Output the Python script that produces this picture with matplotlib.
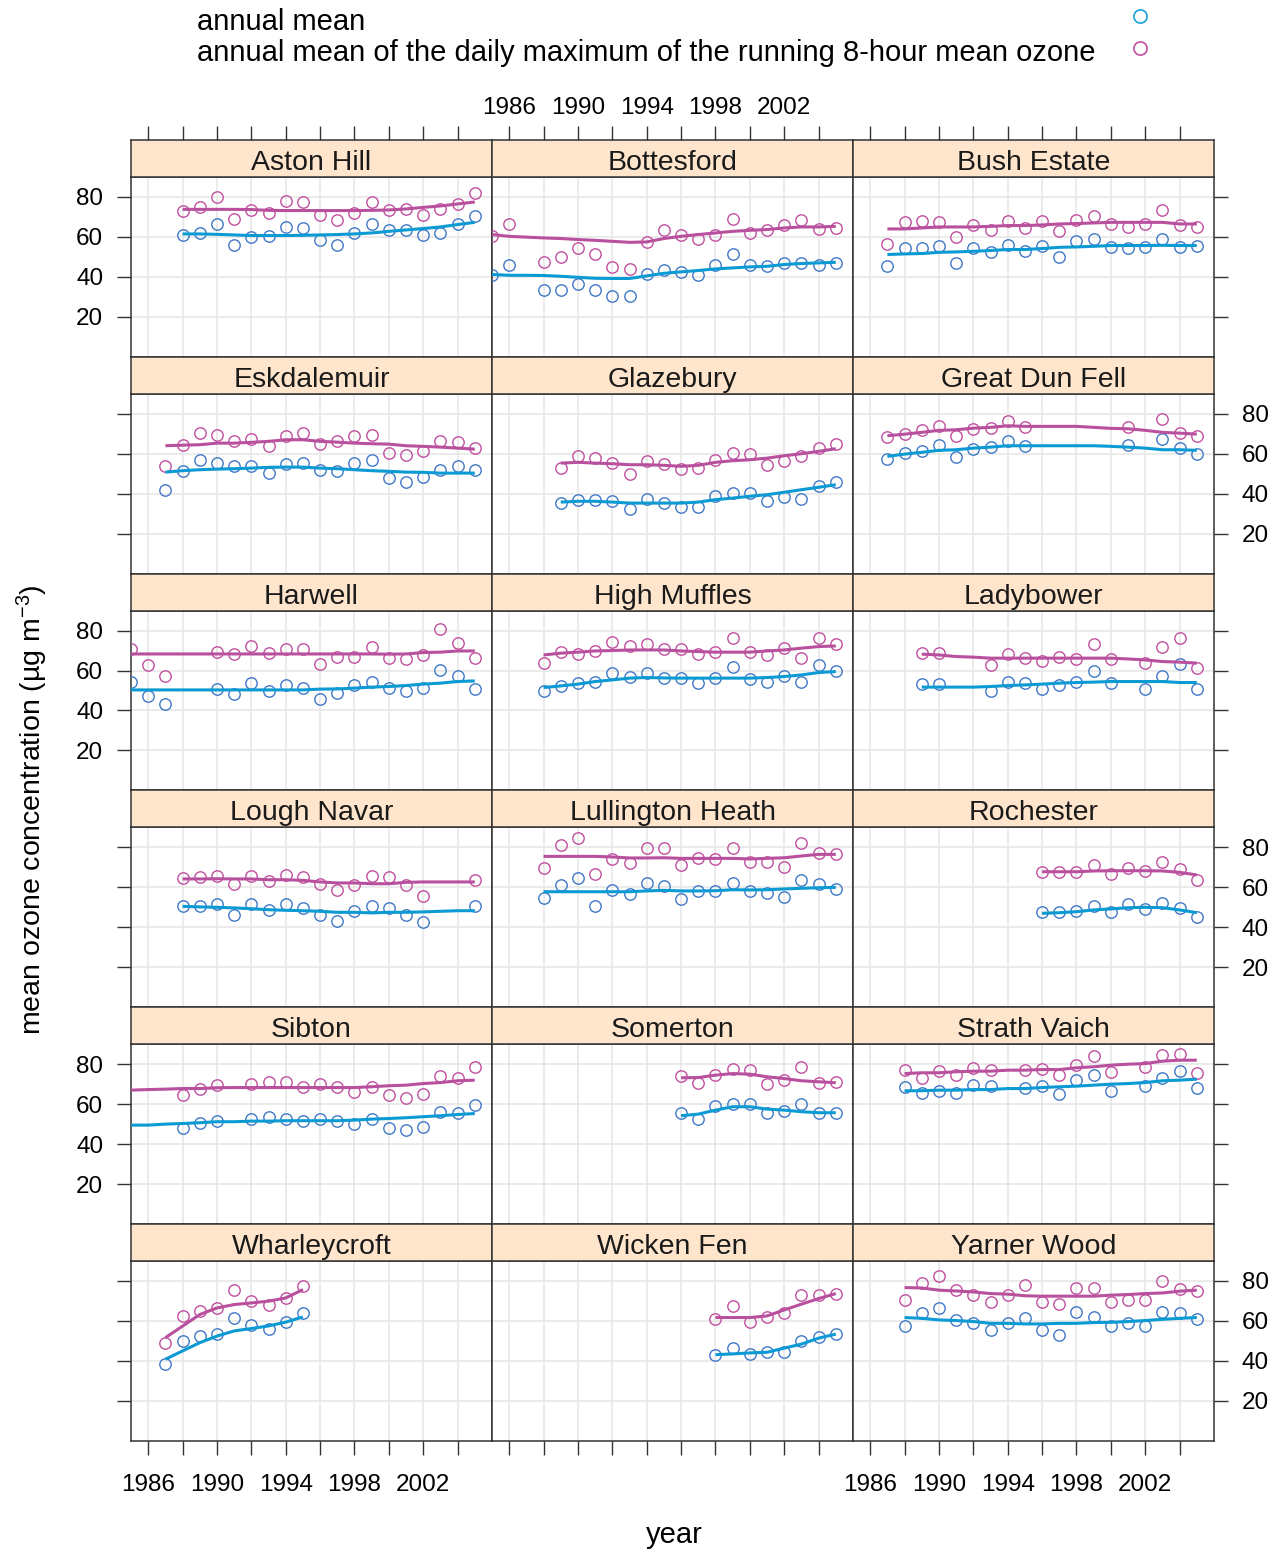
import matplotlib
matplotlib.use("Agg")
import matplotlib.pyplot as plt
from matplotlib.lines import Line2D

plt.rcParams['font.family'] = ['Liberation Sans', 'DejaVu Sans']
plt.rcParams['mathtext.fontset'] = 'custom'
plt.rcParams['mathtext.rm'] = 'Liberation Sans'
plt.rcParams['mathtext.it'] = 'Liberation Sans:italic'

# ---------------- data ----------------
aston_years = list(range(1988, 2006))
aston_max8 = [72.8, 74.8, 80.2, 69.0, 73.5, 72.0, 78.0, 77.3, 70.8, 68.3, 72.0, 77.3, 73.5, 74.2, 71.0, 74.2, 76.5, 81.8]
aston_mean = [61.2, 62.0, 66.3, 56.0, 60.2, 60.3, 65.0, 64.3, 58.3, 56.0, 61.8, 66.5, 63.7, 63.3, 61.2, 61.8, 66.7, 70.5]
aston_fit_years = list(range(1988, 2006))
aston_fit_max8 = [73.8, 73.8, 73.8, 73.8, 73.7, 73.3, 73.2, 73.2, 73.2, 73.2, 73.2, 73.3, 73.5, 74.0, 74.8, 75.5, 76.5, 77.5]
aston_fit_mean = [61.5, 61.5, 61.3, 61.0, 60.7, 60.7, 60.7, 60.8, 61.0, 61.2, 61.5, 62.0, 62.8, 63.5, 64.2, 65.0, 66.2, 67.3]

bottesford_years = [1985, 1986] + list(range(1988, 2006))
bottesford_max8 = [60.3, 66.7, 47.5, 50.0, 54.5, 51.7, 44.7, 44.0, 57.5, 63.7, 60.8, 59.2, 61.2, 69.0, 62.0, 63.7, 66.0, 68.3, 64.0, 64.5]
bottesford_mean = [40.7, 46.2, 33.3, 33.3, 36.5, 33.3, 30.3, 30.3, 41.2, 43.5, 42.5, 40.7, 45.8, 51.5, 46.2, 45.3, 47.0, 47.0, 46.2, 47.0]
bottesford_fit_years = list(range(1985, 2006))
bottesford_fit_max8 = [61.2, 60.3, 59.9, 59.5, 59.2, 58.7, 58.3, 57.8, 57.3, 57.5, 59.2, 60.3, 61.2, 62.0, 62.8, 63.3, 63.7, 64.5, 65.0, 65.0, 65.3]
bottesford_fit_mean = [41.2, 40.8, 40.8, 40.7, 40.3, 39.8, 39.3, 39.2, 39.2, 40.5, 41.8, 42.5, 43.2, 44.0, 44.5, 45.0, 45.3, 46.2, 46.7, 47.0, 47.3]

bush_years = list(range(1987, 2006))
bush_max8 = [56.7, 67.5, 68.2, 67.5, 59.8, 65.8, 63.7, 68.2, 64.3, 68.2, 63.2, 68.3, 70.3, 66.5, 65.0, 66.5, 73.3, 65.8, 65.0]
bush_mean = [45.7, 54.5, 54.5, 55.3, 47.0, 54.5, 52.3, 56.2, 52.8, 55.3, 50.0, 57.8, 59.0, 55.0, 54.5, 55.0, 59.0, 55.0, 55.3]
bush_fit_years = list(range(1987, 2006))
bush_fit_max8 = [64.0, 64.0, 64.5, 65.0, 65.0, 65.0, 65.3, 65.7, 65.7, 66.0, 66.5, 66.7, 67.0, 67.3, 67.3, 67.3, 67.3, 66.5, 66.5]
bush_fit_mean = [51.2, 51.5, 51.7, 52.3, 52.5, 52.8, 53.2, 53.7, 53.7, 54.2, 54.8, 55.0, 55.3, 55.7, 55.7, 55.7, 55.8, 55.7, 55.7]

eskdalemuir_years = list(range(1987, 2006))
eskdalemuir_max8 = [54.0, 64.3, 70.3, 69.5, 66.5, 67.3, 63.7, 69.0, 70.3, 65.0, 66.5, 69.0, 69.5, 60.3, 59.2, 61.2, 66.5, 65.7, 62.8]
eskdalemuir_mean = [41.7, 51.5, 56.7, 55.3, 53.7, 53.7, 50.3, 55.0, 55.3, 52.0, 51.5, 55.3, 56.7, 47.7, 46.0, 48.3, 51.7, 53.7, 51.7]
eskdalemuir_fit_years = list(range(1987, 2006))
eskdalemuir_fit_max8 = [64.0, 64.3, 64.5, 65.3, 65.3, 65.7, 66.2, 67.0, 67.0, 66.2, 65.8, 65.3, 65.0, 64.8, 64.0, 63.7, 63.3, 62.8, 62.3]
eskdalemuir_fit_mean = [50.8, 51.5, 52.0, 52.3, 52.5, 52.8, 53.2, 53.3, 53.3, 52.8, 52.5, 52.0, 51.5, 51.2, 50.8, 50.7, 50.3, 50.3, 50.3]

glazebury_years = list(range(1989, 2006))
glazebury_max8 = [52.8, 58.7, 57.8, 55.3, 50.0, 56.2, 54.7, 52.5, 52.8, 56.7, 60.3, 60.0, 54.5, 56.2, 58.7, 62.8, 65.0]
glazebury_mean = [35.3, 37.0, 37.0, 36.2, 32.3, 37.3, 35.5, 33.3, 33.3, 38.7, 40.3, 40.3, 36.2, 38.3, 37.3, 43.7, 46.0]
glazebury_fit_years = list(range(1989, 2006))
glazebury_fit_max8 = [55.3, 55.7, 55.3, 55.0, 54.5, 54.5, 54.2, 53.7, 54.2, 55.7, 56.5, 57.0, 57.8, 59.0, 60.0, 61.2, 62.5]
glazebury_fit_mean = [35.8, 36.2, 36.2, 35.8, 35.3, 35.3, 35.3, 35.3, 35.8, 37.0, 37.8, 38.7, 39.5, 40.7, 42.0, 43.2, 44.5]

gdf_years = list(range(1987, 1996)) + [2001, 2003, 2004, 2005]
gdf_max8 = [68.3, 70.0, 71.7, 74.0, 68.7, 72.5, 72.8, 76.5, 73.3, 73.3, 77.3, 70.3, 68.7]
gdf_mean = [57.3, 60.3, 61.2, 64.5, 58.3, 62.5, 63.3, 66.2, 63.7, 64.5, 67.3, 62.8, 60.0]
gdf_fit_years = list(range(1987, 2006))
gdf_fit_max8 = [69.0, 69.8, 70.7, 71.7, 72.0, 72.8, 73.2, 74.0, 73.7, 73.7, 73.7, 73.7, 73.2, 72.7, 72.5, 71.7, 70.7, 70.3, 69.8]
gdf_fit_mean = [58.7, 59.8, 60.7, 61.7, 62.0, 62.8, 63.3, 64.0, 64.0, 64.0, 64.0, 64.0, 64.0, 63.7, 63.3, 62.8, 62.0, 62.0, 61.7]

harwell_years = [1985, 1986, 1987] + list(range(1990, 2006))
harwell_max8 = [70.7, 62.8, 57.3, 69.5, 68.2, 72.5, 68.7, 70.8, 70.8, 63.3, 67.0, 67.0, 71.7, 66.2, 65.7, 67.8, 80.7, 74.0, 66.2]
harwell_mean = [54.5, 47.5, 43.2, 50.7, 48.3, 53.7, 49.8, 52.8, 51.5, 45.8, 48.7, 52.8, 54.5, 51.5, 49.8, 51.5, 60.3, 57.5, 50.7]
harwell_fit_years = list(range(1985, 2006))
harwell_fit_max8 = [68.3, 68.3, 68.3, 68.3, 68.3, 68.3, 68.3, 68.3, 68.3, 68.3, 68.3, 68.3, 68.3, 68.3, 68.3, 68.2, 68.3, 69.0, 69.2, 69.8, 69.8]
harwell_fit_mean = [50.3, 50.3, 50.3, 50.3, 50.3, 50.3, 50.3, 50.3, 50.3, 50.3, 50.3, 50.7, 50.8, 51.2, 51.7, 52.0, 52.5, 53.2, 53.7, 54.5, 54.8]

muffles_years = list(range(1988, 2006))
muffles_max8 = [63.7, 69.2, 68.2, 70.0, 74.5, 72.5, 73.2, 70.8, 70.8, 68.2, 69.5, 76.2, 69.2, 67.8, 71.2, 66.2, 76.2, 73.3]
muffles_mean = [49.8, 52.5, 53.7, 54.5, 59.0, 57.0, 59.0, 56.5, 56.5, 53.7, 56.5, 61.7, 55.7, 54.2, 57.3, 54.5, 62.8, 60.0]
muffles_fit_years = list(range(1988, 2006))
muffles_fit_max8 = [67.8, 68.7, 69.2, 69.8, 70.0, 70.3, 70.3, 70.3, 69.8, 69.5, 69.2, 69.2, 69.2, 69.8, 70.3, 71.2, 72.0, 72.3]
muffles_fit_mean = [51.5, 52.3, 53.2, 54.5, 55.3, 56.2, 56.5, 56.3, 56.2, 56.2, 56.2, 56.2, 56.2, 56.5, 57.0, 57.8, 59.0, 59.5]

ladybower_years = [1989, 1990] + list(range(1993, 2001)) + list(range(2002, 2006))
ladybower_max8 = [68.7, 68.7, 62.8, 68.2, 66.2, 65.0, 67.0, 65.7, 73.2, 65.7, 63.7, 72.0, 76.2, 61.2]
ladybower_mean = [53.2, 53.2, 50.0, 54.5, 53.7, 50.7, 52.8, 54.5, 59.8, 53.7, 50.7, 57.5, 63.3, 50.7]
ladybower_fit_years = list(range(1989, 2006))
ladybower_fit_max8 = [68.2, 67.8, 67.0, 66.7, 66.2, 66.2, 66.2, 66.2, 66.2, 66.2, 66.2, 66.2, 65.8, 65.3, 64.5, 64.2, 63.7]
ladybower_fit_mean = [51.7, 51.7, 51.7, 51.7, 52.0, 52.5, 52.8, 53.2, 53.7, 54.0, 54.2, 54.5, 54.5, 54.5, 54.5, 54.0, 54.0]

navar_years = list(range(1988, 2003)) + [2005]
navar_max8 = [64.7, 65.2, 65.8, 61.7, 65.8, 63.0, 66.0, 65.2, 61.7, 58.5, 61.3, 65.8, 65.2, 61.3, 55.5, 63.8]
navar_mean = [50.8, 50.8, 51.7, 46.3, 51.7, 48.5, 51.7, 49.7, 46.0, 43.3, 48.0, 50.8, 49.7, 46.3, 42.5, 50.8]
navar_fit_years = list(range(1988, 2006))
navar_fit_max8 = [64.2, 64.2, 64.3, 64.2, 64.2, 63.8, 63.8, 63.5, 62.7, 62.2, 62.2, 61.8, 61.8, 62.5, 62.7, 62.7, 62.7, 62.7]
navar_fit_mean = [50.5, 50.2, 50.0, 49.7, 49.3, 48.8, 48.5, 48.3, 48.0, 47.5, 47.5, 47.2, 47.5, 47.5, 47.7, 48.0, 48.3, 48.3]

lullington_years = list(range(1988, 2006))
lullington_max8 = [69.7, 81.0, 84.7, 66.7, 74.2, 72.2, 79.7, 79.5, 71.2, 74.8, 74.2, 79.5, 72.8, 72.8, 70.3, 82.0, 77.3, 76.7]
lullington_mean = [54.7, 61.3, 64.7, 50.8, 58.5, 56.8, 62.2, 60.8, 54.0, 58.3, 58.3, 62.0, 58.3, 57.3, 55.3, 63.7, 61.5, 59.0]
lullington_fit_years = list(range(1988, 2006))
lullington_fit_max8 = [75.5, 75.5, 75.5, 75.5, 75.2, 74.7, 74.7, 74.8, 74.5, 74.5, 74.5, 74.5, 74.2, 74.5, 74.8, 75.7, 76.5, 76.5]
lullington_fit_mean = [57.8, 57.8, 57.8, 57.8, 57.8, 57.8, 58.2, 58.5, 58.2, 58.2, 58.3, 58.8, 58.7, 58.8, 59.2, 59.5, 59.8, 60.0]

rochester_years = list(range(1996, 2006))
rochester_max8 = [67.5, 67.8, 67.5, 71.2, 66.7, 69.5, 68.2, 72.8, 69.2, 63.7]
rochester_mean = [47.5, 47.5, 48.3, 50.7, 47.8, 51.7, 49.2, 52.3, 49.5, 45.3]
rochester_fit_years = list(range(1996, 2006))
rochester_fit_max8 = [67.8, 67.8, 67.8, 68.2, 68.3, 68.3, 68.3, 68.2, 67.5, 66.2]
rochester_fit_mean = [47.0, 47.3, 47.8, 48.7, 49.2, 49.8, 50.0, 49.8, 48.7, 47.3]

sibton_years = [1988, 1989, 1990] + list(range(1992, 2006))
sibton_max8 = [64.8, 67.8, 69.5, 70.3, 71.2, 71.2, 68.7, 70.3, 68.7, 66.2, 68.7, 64.8, 63.3, 65.0, 74.2, 73.3, 78.7]
sibton_mean = [48.3, 50.7, 51.5, 52.8, 53.7, 52.8, 51.5, 52.8, 51.5, 50.0, 52.8, 48.3, 47.3, 48.7, 56.2, 55.7, 59.5]
sibton_fit_years = list(range(1985, 2006))
sibton_fit_max8 = [67.0, 67.3, 67.5, 67.8, 67.8, 68.2, 68.3, 68.3, 68.3, 68.3, 68.3, 68.3, 68.3, 68.3, 68.7, 69.2, 69.5, 70.3, 70.8, 71.7, 72.0]
sibton_fit_mean = [49.5, 49.5, 50.0, 50.3, 50.7, 51.2, 51.2, 51.5, 51.5, 51.7, 51.7, 51.7, 51.7, 52.0, 52.5, 52.8, 53.2, 53.7, 54.2, 54.8, 55.3]

somerton_years = list(range(1996, 2006))
somerton_max8 = [74.0, 70.8, 74.8, 77.8, 77.3, 70.3, 72.0, 78.7, 70.7, 71.2]
somerton_mean = [55.7, 52.8, 59.2, 60.3, 60.3, 55.7, 56.7, 60.3, 55.7, 55.7]
somerton_fit_years = list(range(1996, 2006))
somerton_fit_max8 = [73.2, 73.3, 74.5, 75.3, 75.0, 73.7, 72.8, 71.7, 71.2, 70.7]
somerton_fit_mean = [54.2, 55.0, 57.0, 58.7, 58.7, 57.5, 57.0, 56.2, 55.7, 55.7]

strath_years = list(range(1988, 1994)) + list(range(1995, 2001)) + list(range(2002, 2006))
strath_max8 = [77.3, 73.3, 76.5, 74.8, 78.2, 77.3, 77.3, 77.5, 74.8, 79.5, 84.0, 76.2, 78.7, 84.8, 85.3, 75.7]
strath_mean = [68.7, 65.7, 66.5, 65.7, 69.5, 69.0, 68.2, 69.0, 65.0, 72.0, 74.8, 66.7, 69.2, 73.3, 76.7, 68.2]
strath_fit_years = list(range(1988, 2006))
strath_fit_max8 = [75.3, 75.7, 75.7, 76.2, 76.5, 76.5, 77.0, 77.0, 77.3, 77.3, 78.2, 78.7, 79.5, 80.0, 80.3, 81.5, 82.0, 82.0]
strath_fit_mean = [66.7, 66.7, 67.0, 67.0, 67.3, 67.3, 67.8, 67.8, 68.3, 68.7, 69.0, 69.5, 70.0, 70.3, 70.8, 71.7, 72.0, 72.5]

wharley_years = list(range(1987, 1996))
wharley_max8 = [49.1, 62.4, 64.9, 66.5, 75.3, 69.9, 67.9, 71.5, 77.7]
wharley_mean = [38.6, 49.9, 52.7, 53.6, 61.6, 57.9, 55.8, 59.4, 64.0]
wharley_fit_years = list(range(1987, 1996))
wharley_fit_max8 = [51.6, 57.4, 63.2, 66.5, 68.2, 69.0, 69.9, 71.5, 75.7]
wharley_fit_mean = [40.8, 45.0, 49.1, 52.4, 55.0, 56.2, 57.5, 59.4, 62.0]

wicken_years = list(range(1998, 2006))
wicken_max8 = [60.8, 67.6, 59.3, 62.1, 63.8, 72.9, 72.9, 73.7]
wicken_mean = [42.8, 46.4, 43.5, 44.5, 44.3, 49.8, 52.2, 53.4]
wicken_fit_years = list(range(1998, 2006))
wicken_fit_max8 = [61.7, 61.7, 61.7, 62.5, 65.5, 68.4, 71.2, 73.7]
wicken_fit_mean = [43.1, 43.5, 44.0, 44.3, 46.4, 48.4, 51.4, 53.4]

yarner_years = list(range(1988, 2006))
yarner_max8 = [70.7, 79.2, 82.3, 75.7, 73.2, 69.6, 73.2, 77.9, 69.6, 68.3, 76.7, 76.5, 69.6, 70.7, 70.4, 80.0, 75.9, 75.0]
yarner_mean = [57.7, 63.8, 66.6, 60.5, 59.2, 55.5, 59.2, 61.3, 55.5, 53.1, 64.3, 62.1, 57.5, 59.2, 57.5, 64.6, 63.8, 60.8]
yarner_fit_years = list(range(1988, 2006))
yarner_fit_max8 = [76.7, 76.5, 75.4, 75.0, 74.5, 73.7, 73.4, 72.6, 72.4, 72.4, 72.4, 72.4, 72.9, 73.2, 73.7, 74.0, 74.9, 75.4]
yarner_fit_mean = [61.7, 61.3, 60.5, 60.2, 59.7, 58.8, 58.8, 58.5, 58.5, 58.8, 58.8, 59.2, 59.3, 59.7, 60.2, 60.8, 61.3, 61.7]

x_ticks = list(range(1986, 2005, 2))
x_tick_labels = ['1986', '', '1990', '', '1994', '', '1998', '', '2002', '']
y_ticks = [20, 40, 60, 80]
y_tick_labels = ['20', '40', '60', '80']

legend_labels = ['annual mean',
                 'annual mean of the daily maximum of the running 8-hour mean ozone']

panels = [
    ("Aston Hill", aston_years, aston_mean, aston_max8, aston_fit_years, aston_fit_mean, aston_fit_max8),
    ("Bottesford", bottesford_years, bottesford_mean, bottesford_max8, bottesford_fit_years, bottesford_fit_mean, bottesford_fit_max8),
    ("Bush Estate", bush_years, bush_mean, bush_max8, bush_fit_years, bush_fit_mean, bush_fit_max8),
    ("Eskdalemuir", eskdalemuir_years, eskdalemuir_mean, eskdalemuir_max8, eskdalemuir_fit_years, eskdalemuir_fit_mean, eskdalemuir_fit_max8),
    ("Glazebury", glazebury_years, glazebury_mean, glazebury_max8, glazebury_fit_years, glazebury_fit_mean, glazebury_fit_max8),
    ("Great Dun Fell", gdf_years, gdf_mean, gdf_max8, gdf_fit_years, gdf_fit_mean, gdf_fit_max8),
    ("Harwell", harwell_years, harwell_mean, harwell_max8, harwell_fit_years, harwell_fit_mean, harwell_fit_max8),
    ("High Muffles", muffles_years, muffles_mean, muffles_max8, muffles_fit_years, muffles_fit_mean, muffles_fit_max8),
    ("Ladybower", ladybower_years, ladybower_mean, ladybower_max8, ladybower_fit_years, ladybower_fit_mean, ladybower_fit_max8),
    ("Lough Navar", navar_years, navar_mean, navar_max8, navar_fit_years, navar_fit_mean, navar_fit_max8),
    ("Lullington Heath", lullington_years, lullington_mean, lullington_max8, lullington_fit_years, lullington_fit_mean, lullington_fit_max8),
    ("Rochester", rochester_years, rochester_mean, rochester_max8, rochester_fit_years, rochester_fit_mean, rochester_fit_max8),
    ("Sibton", sibton_years, sibton_mean, sibton_max8, sibton_fit_years, sibton_fit_mean, sibton_fit_max8),
    ("Somerton", somerton_years, somerton_mean, somerton_max8, somerton_fit_years, somerton_fit_mean, somerton_fit_max8),
    ("Strath Vaich", strath_years, strath_mean, strath_max8, strath_fit_years, strath_fit_mean, strath_fit_max8),
    ("Wharleycroft", wharley_years, wharley_mean, wharley_max8, wharley_fit_years, wharley_fit_mean, wharley_fit_max8),
    ("Wicken Fen", wicken_years, wicken_mean, wicken_max8, wicken_fit_years, wicken_fit_mean, wicken_fit_max8),
    ("Yarner Wood", yarner_years, yarner_mean, yarner_max8, yarner_fit_years, yarner_fit_mean, yarner_fit_max8),
]

# ---------------- styling / layout ----------------
W, H = 1282, 1552
COL_LEFT0, COL_W = 131, 361
ROW_TOP0, ROW_H = 140, 216.8
STRIP_H = 37
XLIM = (1985.0, 2006.0)
YLIM = (0, 90)

MEAN_PT = '#3f78c6'
MEAN_LN = '#0b9ad3'
MAX_PT = '#c04f9f'
MAX_LN = '#b8509e'
STRIP_BG = '#ffe5cc'
FRAME = '#333333'
GRID = '#e6e6e6'


def rect(x0, y0, w, h):
    return [x0 / W, 1 - (y0 + h) / H, w / W, h / H]


fig = plt.figure(figsize=(W / 100, H / 100), dpi=100)
fig.patch.set_facecolor('white')

tick_kw = dict(direction='out', length=10, width=1.0, color=FRAME, labelsize=17.5, pad=9)

for i, (name, yrs, mean, max8, fyrs, fmean, fmax8) in enumerate(panels):
    r, c = divmod(i, 3)
    top = ROW_TOP0 + r * ROW_H
    left = COL_LEFT0 + c * COL_W
    ax = fig.add_axes(rect(left, top + STRIP_H, COL_W, ROW_H - STRIP_H))
    sax = fig.add_axes(rect(left, top, COL_W, STRIP_H))

    ax.set_xlim(*XLIM)
    ax.set_ylim(*YLIM)
    for gx in x_ticks:
        ax.axvline(gx, color=GRID, lw=1.1, zorder=0)
    for gy in y_ticks:
        ax.axhline(gy, color=GRID, lw=1.1, zorder=0)

    ax.plot(yrs, mean, linestyle='none', marker='o', ms=8.2, mfc='none',
            mec=MEAN_PT, mew=1.0, zorder=3)
    ax.plot(yrs, max8, linestyle='none', marker='o', ms=8.2, mfc='none',
            mec=MAX_PT, mew=1.0, zorder=3)
    ax.plot(fyrs, fmean, color=MEAN_LN, lw=2.2, zorder=4, solid_capstyle='butt')
    ax.plot(fyrs, fmax8, color=MAX_LN, lw=2.2, zorder=4, solid_capstyle='butt')

    ax.set_xticks(x_ticks)
    ax.set_xticklabels(x_tick_labels)
    ax.set_yticks(y_ticks)
    ax.set_yticklabels(y_tick_labels)
    ax.tick_params(axis='both', **tick_kw)
    ax.tick_params(axis='x', bottom=(r == 5), top=False,
                   labelbottom=(r == 5 and c != 1), labeltop=False, pad=14)
    ax.tick_params(axis='y', left=(c == 0), right=(c == 2),
                   labelleft=(c == 0 and r % 2 == 0),
                   labelright=(c == 2 and r % 2 == 1), pad=10)
    for sp in ax.spines.values():
        sp.set_color(FRAME)
        sp.set_linewidth(1.1)

    # strip
    sax.set_facecolor(STRIP_BG)
    sax.set_xlim(*XLIM)
    sax.set_ylim(0, 1)
    sax.set_yticks([])
    sax.set_xticks(x_ticks)
    sax.set_xticklabels(x_tick_labels)
    sax.tick_params(axis='x', **tick_kw)
    sax.tick_params(axis='x', bottom=False, labelbottom=False,
                    top=(r == 0), labeltop=(r == 0 and c == 1), pad=5)
    for sp in sax.spines.values():
        sp.set_color(FRAME)
        sp.set_linewidth(1.1)
    sax.text(0.5, 0.38, name, transform=sax.transAxes, ha='center', va='center',
             fontsize=20.5, color='#1a1a1a')

# axis labels
fig.text(674 / W, 1 - 1535 / H, 'year', ha='center', va='center', fontsize=21)
fig.text(32 / W, 1 - 810 / H, 'mean ozone concentration (µg m$^{-3}$)',
         ha='center', va='center', rotation=90, fontsize=20.5)

# legend (key)
fig.text(197 / W, 1 - 22 / H, legend_labels[0], ha='left', va='center', fontsize=21)
fig.text(197 / W, 1 - 53 / H, legend_labels[1], ha='left', va='center', fontsize=21)
fig.add_artist(Line2D([1140 / W], [1 - 16 / H], transform=fig.transFigure,
                      linestyle='none', marker='o', ms=9.5, mfc='none', mec='#18a0db', mew=1.2))
fig.add_artist(Line2D([1140 / W], [1 - 48 / H], transform=fig.transFigure,
                      linestyle='none', marker='o', ms=9.5, mfc='none', mec=MAX_PT, mew=1.2))

fig.savefig('out.png', dpi=100)
